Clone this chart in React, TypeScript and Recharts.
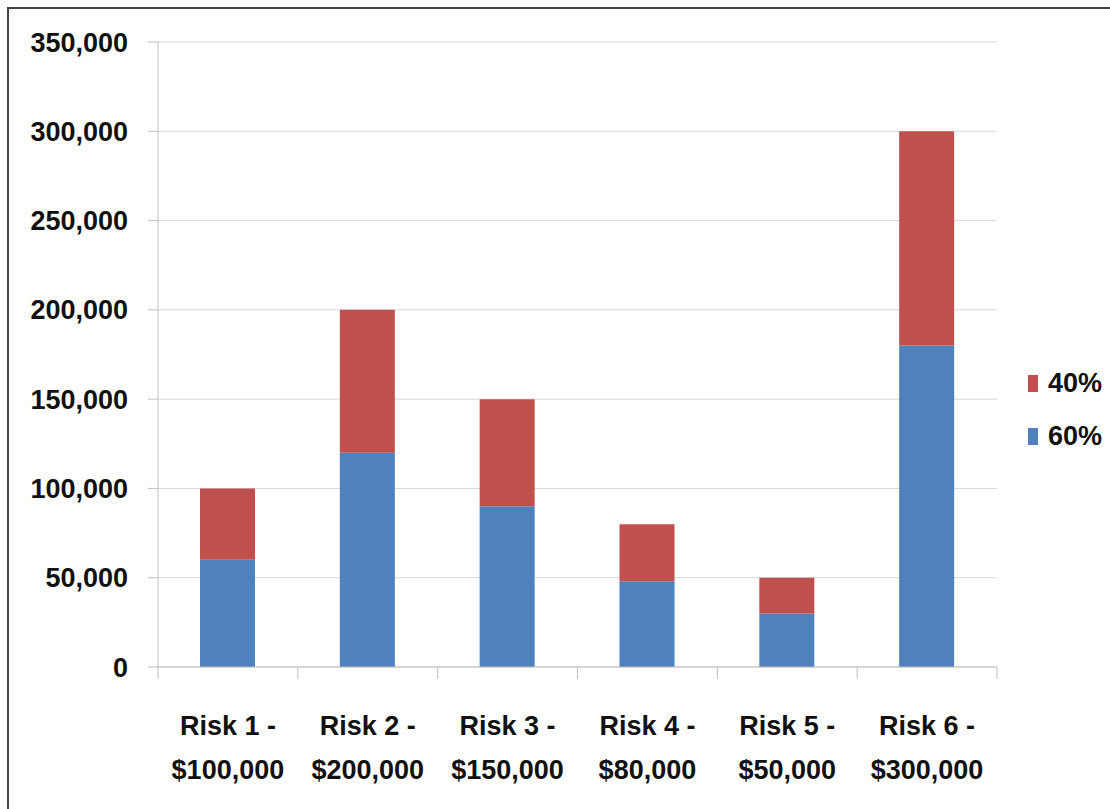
import { Bar, BarChart, CartesianGrid, Legend, XAxis, YAxis } from "recharts";

const riskNames = ["Risk 1", "Risk 2", "Risk 3", "Risk 4", "Risk 5", "Risk 6"];
const riskAmounts = ["$100,000", "$200,000", "$150,000", "$80,000", "$50,000", "$300,000"];
const share60 = [60000, 120000, 90000, 48000, 30000, 180000];
const share40 = [40000, 80000, 60000, 32000, 20000, 120000];
const yTicks = [0, 50000, 100000, 150000, 200000, 250000, 300000, 350000];

const BLUE = "#4F81BD";
const RED = "#C0504D";
const AXIS_GRAY = "#bfbfbf";
const GRID_GRAY = "#d9d9d9";
const FONT = "'Liberation Sans', Arial, sans-serif";

const CHART_W = 1110;
const CHART_H = 809;
const Y_AXIS_W = 158;
const RIGHT_OFFSET = 113;
const HALF_BAND = (CHART_W - Y_AXIS_W - RIGHT_OFFSET) / riskNames.length / 2;

const data = riskNames.map((name, i) => ({
  label: `${name} - ${riskAmounts[i]}`,
  p60: share60[i],
  p40: share40[i],
}));

function CategoryTick(props: any) {
  const { x, y, payload, index } = props;
  const [name, amount] = String(payload.value).split(" - ");
  const last = index === riskNames.length - 1;
  return (
    <g>
      <line x1={x - HALF_BAND} x2={x - HALF_BAND} y1={y} y2={y + 12} stroke={AXIS_GRAY} />
      {last && (
        <line x1={x + HALF_BAND} x2={x + HALF_BAND} y1={y} y2={y + 12} stroke={AXIS_GRAY} />
      )}
      <text
        x={x}
        y={y + 59}
        textAnchor="middle"
        dominantBaseline="central"
        fontFamily={FONT}
        fontWeight="bold"
        fontSize={27}
        fill="#111"
      >
        {`${name} -`}
      </text>
      <text
        x={x}
        y={y + 103}
        textAnchor="middle"
        dominantBaseline="central"
        fontFamily={FONT}
        fontWeight="bold"
        fontSize={27}
        fill="#111"
      >
        {amount}
      </text>
    </g>
  );
}

function LegendBox() {
  const items = [
    { name: "40%", color: RED },
    { name: "60%", color: BLUE },
  ];
  return (
    <div style={{ paddingLeft: 31 }}>
      {items.map((it) => (
        <div key={it.name} style={{ display: "flex", alignItems: "center", height: 53 }}>
          <span style={{ width: 17, height: 17, background: it.color, display: "inline-block" }} />
          <span
            style={{
              marginLeft: 10,
              fontFamily: FONT,
              fontWeight: "bold",
              fontSize: 27,
              color: "#111",
            }}
          >
            {it.name}
          </span>
        </div>
      ))}
    </div>
  );
}

export default function App() {
  return (
    <div style={{ position: "absolute", left: 0, top: 0, width: CHART_W, height: CHART_H, overflow: "hidden", background: "#fff" }}>
      <div
        style={{
          position: "absolute",
          left: 7,
          top: 7,
          width: CHART_W + 20,
          height: CHART_H + 20,
          border: "2px solid #444",
        }}
      />
      <div style={{ position: "absolute", left: 0, top: 0 }}>
        <BarChart
          width={CHART_W}
          height={CHART_H}
          data={data}
          margin={{ top: 42, right: 8, bottom: 0, left: 0 }}
        >
          <CartesianGrid vertical={false} stroke={GRID_GRAY} />
          <XAxis
            dataKey="label"
            height={142}
            interval={0}
            tickLine={false}
            tickSize={0}
            tickMargin={0}
            axisLine={{ stroke: AXIS_GRAY }}
            tick={<CategoryTick />}
          />
          <YAxis
            width={Y_AXIS_W}
            domain={[0, 350000]}
            ticks={yTicks}
            tickSize={10}
            tickMargin={20}
            axisLine={{ stroke: AXIS_GRAY }}
            tickLine={{ stroke: AXIS_GRAY }}
            tick={{ fill: "#111", fontSize: 27, fontWeight: "bold", fontFamily: FONT }}
            tickFormatter={(v) => Number(v).toLocaleString("en-US")}
          />
          <Legend
            layout="vertical"
            align="right"
            verticalAlign="middle"
            wrapperStyle={{ width: 105, top: 357 }}
            content={<LegendBox />}
          />
          <Bar dataKey="p60" name="60%" stackId="a" fill={BLUE} barSize={55} isAnimationActive={false} />
          <Bar dataKey="p40" name="40%" stackId="a" fill={RED} barSize={55} isAnimationActive={false} />
        </BarChart>
      </div>
    </div>
  );
}
